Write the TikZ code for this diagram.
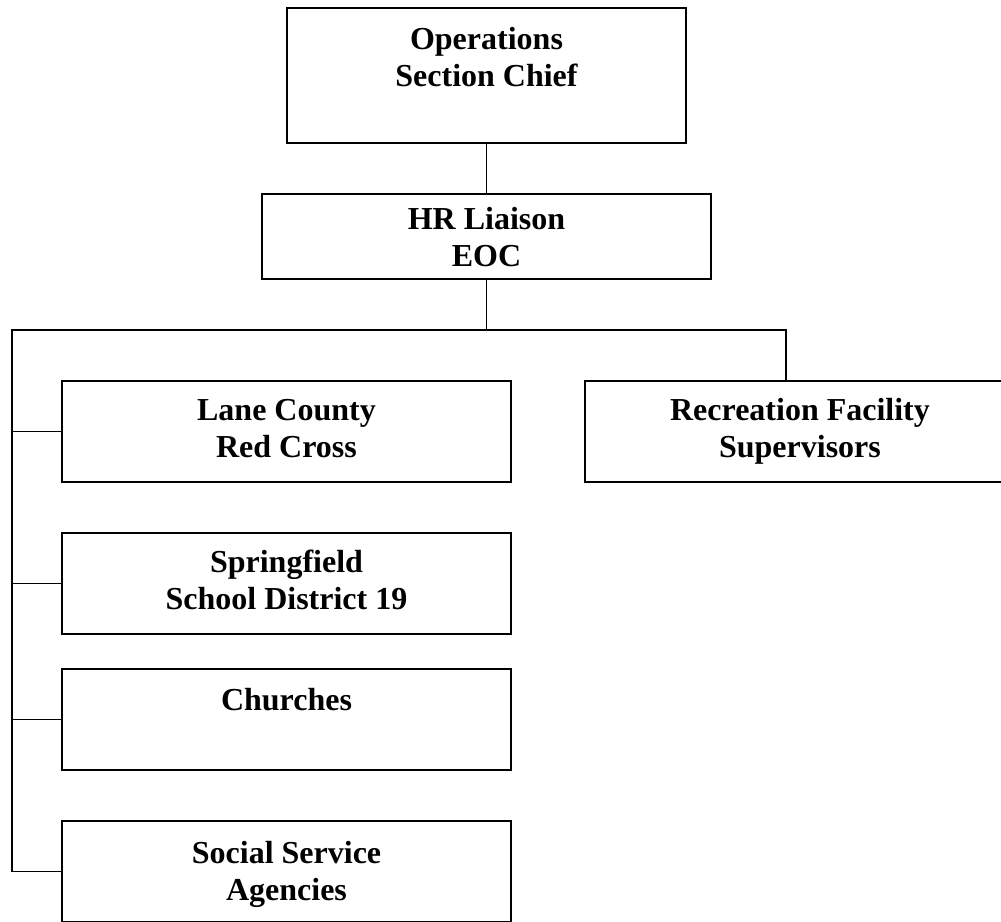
\documentclass[tikz,border=0pt]{standalone}
\usepackage{fontspec}
\setmainfont{Liberation Serif}
\begin{document}
\begin{tikzpicture}[x=1pt,y=-1pt,
  box/.style={draw,line width=1.6pt,inner sep=0pt,minimum height=101pt,minimum width=449pt},
  lbl/.style={anchor=north,inner sep=0pt,align=center,font=\bfseries\fontsize{32}{37}\selectfont},
  conn/.style={line width=1.6pt}]
\clip (0,0) rectangle (1001,921);
\fill[white] (0,0) rectangle (1001,921);
% boxes
\node[box,minimum width=399pt,minimum height=135pt] (ops) at (486.5,75.5) {};
\node[box,minimum height=85pt] (hr) at (486.5,236.5) {};
\node[box] (lane) at (286.5,431.5) {};
\node[box] (spring) at (286.5,583.5) {};
\node[box] (church) at (286.5,719.5) {};
\node[box] (social) at (286.5,871.5) {};
\node[box,minimum width=430pt] (rec) at (800,431.5) {};
% texts
\node[lbl] (opsT) at ([yshift=-20pt]ops.north) {Operations\\Section Chief};
\node[lbl] (hrT) at ([yshift=-14pt]hr.north) {HR Liaison\\EOC};
\node[lbl] (laneT) at ([yshift=-19pt]lane.north) {Lane County\\Red Cross};
\node[lbl] (springT) at ([yshift=-18pt]spring.north) {Springfield\\School District 19};
\node[lbl] (churchT) at ([yshift=-20pt]church.north) {Churches};
\node[lbl] (socialT) at ([yshift=-21pt]social.north) {Social Service\\Agencies};
\node[lbl] (recT) at ([yshift=-18pt]rec.north) {Recreation Facility\\Supervisors};
% connectors
\coordinate (bl) at (12,330);
\coordinate (br) at (786,330);
\draw[conn] (ops.south) -- (hr.north);
\draw[conn] (hr.south) -- (hr.south |- bl);
\draw[conn] (br |- rec.north) -- (br) -- (bl) -- (bl |- social.west) -- (social.west);
\draw[conn] (bl |- lane.west) -- (lane.west);
\draw[conn] (bl |- spring.west) -- (spring.west);
\draw[conn] (bl |- church.west) -- (church.west);
\end{tikzpicture}
\end{document}
